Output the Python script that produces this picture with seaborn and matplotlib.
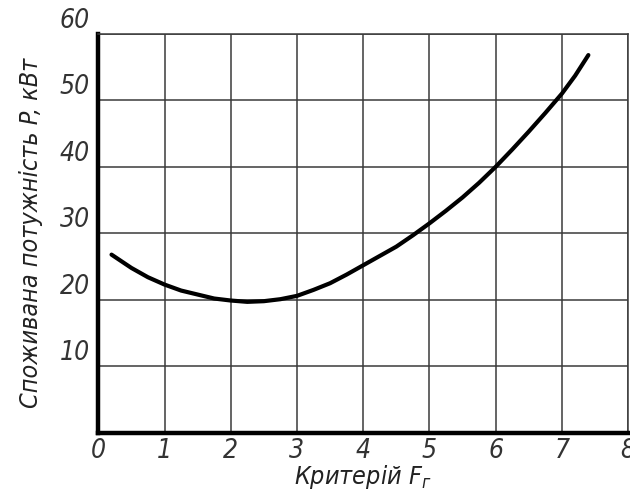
import matplotlib
matplotlib.use("Agg")
import matplotlib.pyplot as plt
import seaborn as sns
import pandas as pd

# values
criterion = [0.2, 0.5, 0.75, 1.0, 1.25, 1.5, 1.75, 2.0, 2.25, 2.5, 2.75, 3.0, 3.25, 3.5,
             3.75, 4.0, 4.25, 4.5, 4.75, 5.0, 5.25, 5.5, 5.75, 6.0, 6.25, 6.5, 6.75,
             7.0, 7.2, 7.4]
power = [26.8, 24.8, 23.4, 22.3, 21.4, 20.8, 20.2, 19.9, 19.7, 19.8, 20.1, 20.6, 21.5, 22.5,
         23.8, 25.2, 26.6, 28.0, 29.7, 31.5, 33.4, 35.4, 37.6, 40.0, 42.6, 45.3, 48.1,
         51.0, 53.7, 56.8]
x_ticks = [0, 1, 2, 3, 4, 5, 6, 7, 8]
y_ticks = [10, 20, 30, 40, 50, 60]

df = pd.DataFrame({"F": criterion, "P": power})

sns.set_style("white")
plt.rcParams['font.family'] = ['DejaVu Sans']
plt.rcParams['font.stretch'] = 'condensed'
plt.rcParams['font.style'] = 'italic'
plt.rcParams['mathtext.default'] = 'regular'

fig = plt.figure(figsize=(6.3, 4.97), dpi=100)
ax = fig.add_axes([0.156, 0.129, 0.841, 0.803])

sns.lineplot(data=df, x="F", y="P", color="black", linewidth=3.0, ax=ax)

ax.set_xlim(0, 8)
ax.set_ylim(0, 60)
ax.set_xticks(x_ticks)
ax.set_yticks(y_ticks)
ax.grid(True, color="#3a3a3a", linewidth=1.1)
ax.tick_params(length=0, labelsize=19, colors="#333333")
ax.tick_params(axis="x", pad=4)
ax.tick_params(axis="y", pad=6)
ax.set_xticklabels([str(v) for v in x_ticks], fontstyle="italic", fontstretch="condensed")
ax.set_yticklabels([str(v) for v in y_ticks], fontstyle="italic", fontstretch="condensed")
for lbl in ax.get_yticklabels():
    lbl.set_va("bottom")

for side in ["left", "bottom"]:
    ax.spines[side].set_linewidth(3.2)
    ax.spines[side].set_color("black")
for side in ["top", "right"]:
    ax.spines[side].set_linewidth(1.1)
    ax.spines[side].set_color("#3a3a3a")

ax.set_xlabel("Критерій F$_г$", fontsize=18, fontstyle="italic", fontstretch="condensed",
              color="#222222", labelpad=-1)
ax.set_ylabel("Споживана потужність P, кВт", fontsize=18, fontstyle="italic",
              fontstretch="condensed", color="#222222", labelpad=12)

fig.savefig("out.png", dpi=100)
